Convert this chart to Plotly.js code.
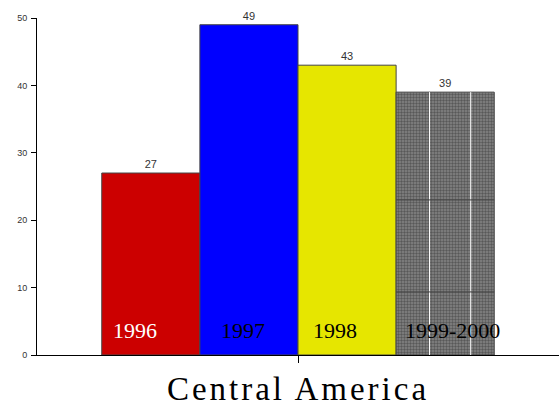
<!DOCTYPE html>
<html>
<head>
<meta charset="utf-8">
<script src="https://cdn.plot.ly/plotly-3.0.1.min.js"></script>
<style>
html,body{margin:0;padding:0;background:#fff;}
#chart{width:559px;height:408px;}
</style>
</head>
<body>
<div id="chart"></div>
<script>
// Data
const categories = ["1996", "1997", "1998", "1999-2000"];
const values = [27, 49, 43, 39];
const groupLabel = "Central America";
const yTicks = [0, 10, 20, 30, 40, 50];

// Styles
const barColors = ["#CC0000", "#0000FF", "#E6E600", "#868686"];
const labelColors = ["#FFFFFF", "#000000", "#000000", "#000000"];
const labelShift = [11, 21, 15, 9];

const xs = categories.map((c, i) => i);

const trace = {
  type: "bar",
  x: xs,
  y: values,
  width: 1,
  text: values.map(String),
  textposition: "outside",
  textfont: {family: "Liberation Sans Narrow, Arial Narrow, Liberation Sans, sans-serif", size: 11, color: "#333"},
  cliponaxis: false,
  marker: {
    color: barColors,
    line: {color: "#444", width: 1},
    pattern: {
      shape: ["", "", "", "."],
      fillmode: "overlay",
      fgcolor: "#5e5e5e",
      fgopacity: 0.7,
      size: 3,
      solidity: 0.5
    }
  },
  hoverinfo: "none"
};

const annotations = categories.map((c, i) => ({
  x: i - 0.5, xref: "x", xanchor: "left", xshift: labelShift[i] - 2,
  y: 0, yref: "y", yanchor: "middle", yshift: 25,
  text: c, showarrow: false,
  font: {family: "Liberation Serif, Times New Roman, serif", size: 22, color: labelColors[i]}
}));

// decorative grid lines inside the last (hatched) bar
const gi = 3;
const shapes = [
  {type: "line", xref: "x", yref: "y", x0: gi - 0.5 + 0.34, x1: gi - 0.5 + 0.34, y0: 0, y1: values[gi], line: {color: "#ffffff", width: 1}},
  {type: "line", xref: "x", yref: "y", x0: gi - 0.5 + 0.76, x1: gi - 0.5 + 0.76, y0: 0, y1: values[gi], line: {color: "#ffffff", width: 1}},
  {type: "line", xref: "x", yref: "y", x0: gi - 0.5, x1: gi + 0.5, y0: values[gi] * 0.59, y1: values[gi] * 0.59, line: {color: "#444", width: 1}},
  {type: "line", xref: "x", yref: "y", x0: gi - 0.5, x1: gi + 0.5, y0: values[gi] * 0.24, y1: values[gi] * 0.24, line: {color: "#444", width: 1}}
];

const layout = {
  width: 559, height: 408,
  margin: {l: 37, r: 0, t: 18, b: 53},
  paper_bgcolor: "#fff", plot_bgcolor: "#fff",
  showlegend: false,
  bargap: 0,
  xaxis: {
    range: [-1.16, 4.16],
    tickvals: [1.5], ticktext: [""],
    ticks: "outside", ticklen: 7, tickcolor: "#000", tickwidth: 1,
    showgrid: false, zeroline: false,
    showline: true, linecolor: "#000", linewidth: 1,
    title: {text: groupLabel, standoff: 12,
      font: {family: "Liberation Serif, Times New Roman, serif", size: 33, color: "#000"}}
  },
  yaxis: {
    range: [0, 50],
    tickvals: yTicks,
    ticks: "outside", ticklen: 5, tickcolor: "#000",
    showgrid: false, zeroline: false,
    showline: true, linecolor: "#000", linewidth: 1,
    tickfont: {family: "Liberation Sans Narrow, Arial Narrow, Liberation Sans, sans-serif", size: 9, color: "#333"},
    ticklabelstandoff: 2
  },
  annotations: annotations,
  shapes: shapes
};

Plotly.newPlot("chart", [trace], layout, {displayModeBar: false, staticPlot: true}).then(() => {
  document.querySelectorAll(".g-xtitle text").forEach(t => { t.style.letterSpacing = "3px"; });
});
</script>
</body>
</html>
